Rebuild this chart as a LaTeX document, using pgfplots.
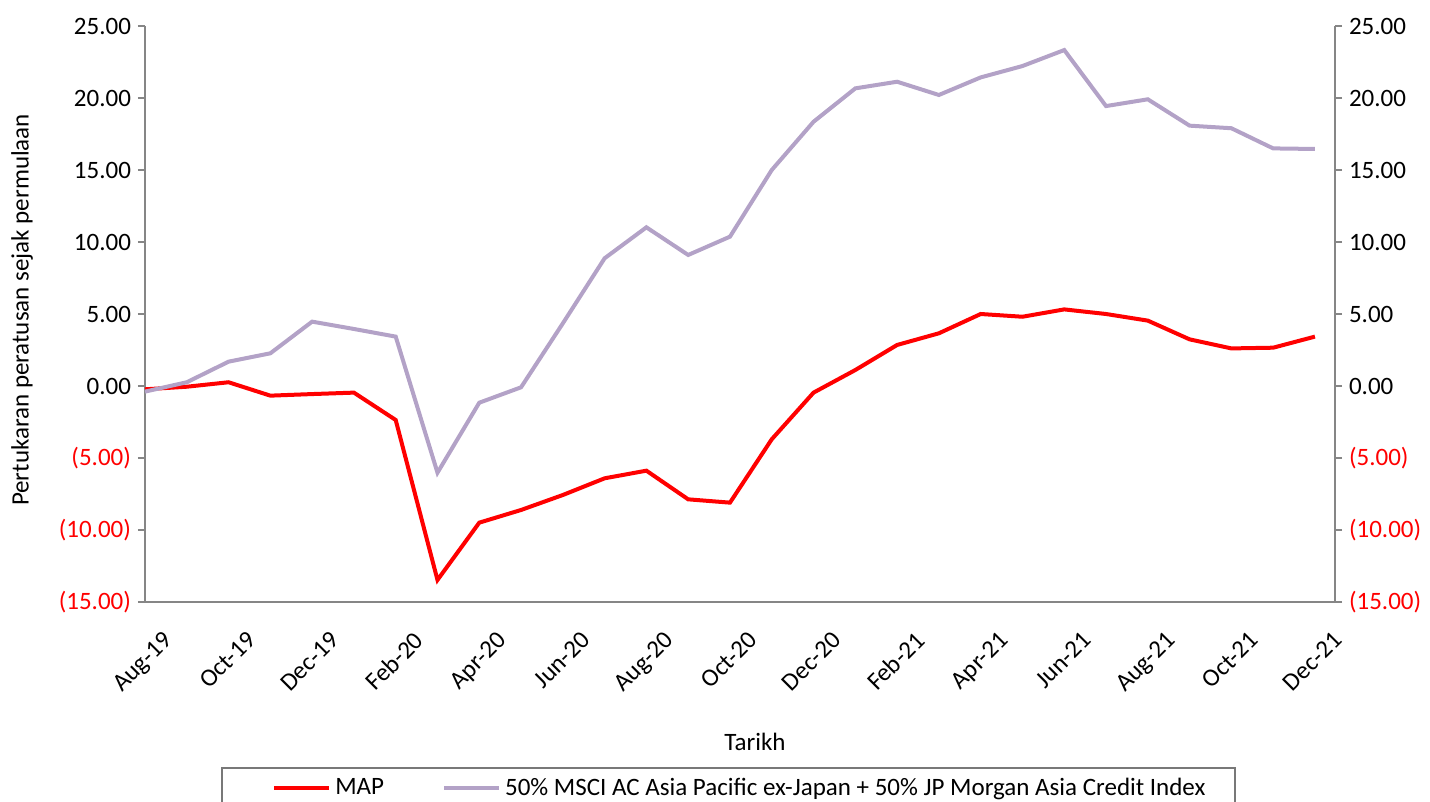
\documentclass[border=0pt]{standalone}
\usepackage{pgfplots}
\pgfplotsset{compat=1.18}
\usepackage{fontspec}
\setmainfont{Carlito}
\definecolor{bench}{RGB}{179,162,199}
\definecolor{axgray}{RGB}{134,134,134}
\definecolor{legframe}{RGB}{120,120,120}
\begin{document}
\begin{tikzpicture}
\useasboundingbox (-72.5bp,-100bp) rectangle (642.5bp,301bp);
\pgfplotsset{
  common/.style={
    scale only axis, width=595bp, height=288bp,
    at={(0,0)}, anchor=south west,
    xmin=0, xmax=28.48, ymin=-15, ymax=25,
    ytick={-15,-10,-5,0,5,10,15,20,25},
    yticklabels={\textcolor{red}{(15.00)},\textcolor{red}{(10.00)},\textcolor{red}{(5.00)},0.00,5.00,10.00,15.00,20.00,25.00},
    tick align=outside, major tick length=3.5bp,
    axis line style={axgray, line width=0.8bp, -},
    every tick/.style={axgray, line width=0.8bp},
    tick label style={font=\fontsize{12.5bp}{15bp}\selectfont, black},
  }
}
\begin{axis}[common,
  axis y line*=left, axis x line*=bottom,
  xtick={0,2,...,28},
  xticklabels={Aug-19,Oct-19,Dec-19,Feb-20,Apr-20,Jun-20,Aug-20,Oct-20,Dec-20,Feb-21,Apr-21,Jun-21,Aug-21,Oct-21,Dec-21},
  x tick style={draw=none},
  xticklabel style={rotate=45, anchor=north east, yshift=-10bp, xshift=2bp},
  legend columns=2,
  legend style={at={(axis description cs:0.1067,-0.323)}, anchor=west, draw=none, fill=none,
    inner xsep=0pt, inner ysep=0pt, font=\fontsize{12.5bp}{15bp}\selectfont,
    /tikz/every even column/.append style={column sep=27bp}},
  legend image code/.code={\draw[#1] (0bp,0bp) -- (27.5bp,0bp);},
]
\addplot[red, line width=2bp] coordinates {
(0,-0.23) (1,-0.05) (2,0.26) (3,-0.67) (4,-0.56) (5,-0.46) (6,-2.36) (7,-13.47)
(8,-9.49) (9,-8.61) (10,-7.57) (11,-6.41) (12,-5.88) (13,-7.87) (14,-8.10)
(15,-3.70) (16,-0.46) (17,1.11) (18,2.85) (19,3.66) (20,5.00) (21,4.81) (22,5.32)
(23,5.00) (24,4.54) (25,3.24) (26,2.61) (27,2.66) (28,3.43)};
\addlegendentry{MAP}
\addplot[bench, line width=2bp] coordinates {
(0,-0.39) (1,0.26) (2,1.69) (3,2.27) (4,4.47) (5,3.96) (6,3.43) (7,-6.02)
(8,-1.16) (9,-0.09) (10,4.35) (11,8.87) (12,11.02) (13,9.10) (14,10.37)
(15,15.00) (16,18.35) (17,20.67) (18,21.13) (19,20.21) (20,21.43) (21,22.22) (22,23.33)
(23,19.44) (24,19.91) (25,18.08) (26,17.90) (27,16.50) (28,16.46)};
\addlegendentry{50\% MSCI AC Asia Pacific ex-Japan + 50\% JP Morgan Asia Credit Index}
\end{axis}
\begin{axis}[common,
  axis y line*=right, axis x line=none,
  xtick=\empty,
]
\end{axis}
\node[font=\fontsize{12.5bp}{15bp}\selectfont] at (305bp,-70bp) {Tarikh};
\node[font=\fontsize{12.5bp}{15bp}\selectfont, rotate=90] at (-61.5bp,146bp) {Pertukaran peratusan sejak permulaan};
\draw[legframe, line width=0.8bp] (38.5bp,-101bp) -- (38.5bp,-83bp) -- (545bp,-83bp) -- (545bp,-101bp);
\end{tikzpicture}
\end{document}
